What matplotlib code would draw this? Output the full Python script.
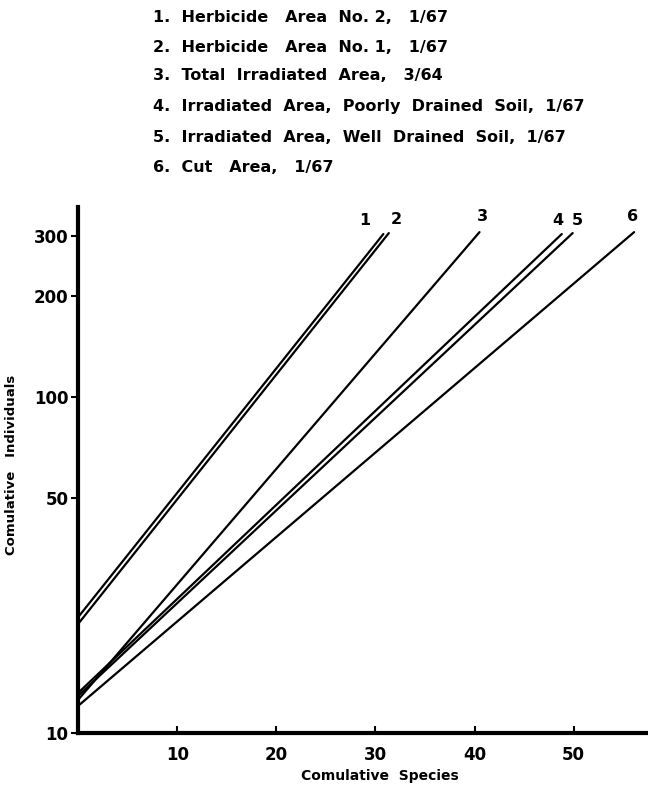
import matplotlib
matplotlib.use("Agg")
import matplotlib.pyplot as plt
import numpy as np

# ---- data ----
line_ids = ["1", "2", "3", "4", "5", "6"]
legend_texts = [
    "1.  Herbicide   Area  No. 2,   1/67",
    "2.  Herbicide   Area  No. 1,   1/67",
    "3.  Total  Irradiated  Area,   3/64",
    "4.  Irradiated  Area,  Poorly  Drained  Soil,  1/67",
    "5.  Irradiated  Area,  Well  Drained  Soil,  1/67",
    "6.  Cut   Area,   1/67",
]
start_species = [0, 0, 0, 0, 0, 0]
start_individuals = [22.1, 21.1, 12.55, 13.16, 12.9, 12.04]
end_species = [30.8, 31.35, 40.5, 48.8, 49.9, 56.1]
end_individuals = [305, 307, 309, 305, 307, 309]
x_ticks = [10, 20, 30, 40, 50]
y_ticks = [10, 50, 100, 200, 300]

# label offsets (pixels) relative to line ends
label_offsets = [(-19, 6), (8, 6), (3, 8), (-4, 6), (5, 5), (-2, 8)]

fig = plt.figure(figsize=(6.48, 7.85), dpi=100)
ax = fig.add_axes([0.1205, 0.0662, 0.8795, 0.6706])

for i in range(len(line_ids)):
    ax.plot([start_species[i], end_species[i]],
            [start_individuals[i], end_individuals[i]],
            color="black", lw=1.6, solid_capstyle="round")
    ax.annotate(line_ids[i], (end_species[i], end_individuals[i]),
                xytext=label_offsets[i], textcoords="offset pixels",
                ha="center", va="bottom", fontsize=11.5, fontweight="bold")

ax.set_yscale("log")
ax.set_xlim(0, 57.5)
ax.set_ylim(10, 368)
ax.set_xticks(x_ticks)
ax.set_xticklabels([str(t) for t in x_ticks])
ax.set_yticks(y_ticks)
ax.set_yticklabels([str(t) for t in y_ticks])
ax.yaxis.set_minor_locator(matplotlib.ticker.NullLocator())
ax.tick_params(axis="x", direction="in", length=5, width=1.5, labelsize=12, pad=9)
ax.tick_params(axis="y", direction="out", length=5, width=1.5, labelsize=12, pad=2)
for lbl in ax.get_xticklabels() + ax.get_yticklabels():
    lbl.set_fontweight("bold")

for s in ["top", "right"]:
    ax.spines[s].set_visible(False)
for s in ["left", "bottom"]:
    ax.spines[s].set_linewidth(3)

ax.set_xlabel("Comulative  Species", fontsize=10, fontweight="bold")
ax.xaxis.set_label_coords(0.53, -0.068)
ax.set_ylabel("Comulative   Individuals", fontsize=9.5, fontweight="bold")
ax.yaxis.set_label_coords(-0.105, 0.51)

# legend text block
y_pix = [17, 47, 75, 106, 137, 168]
for t, yp in zip(legend_texts, y_pix):
    fig.text(153 / 648, 1 - yp / 785, t, ha="left", va="center",
             fontsize=11.5, fontweight="bold")

fig.savefig("out.png", dpi=100)
